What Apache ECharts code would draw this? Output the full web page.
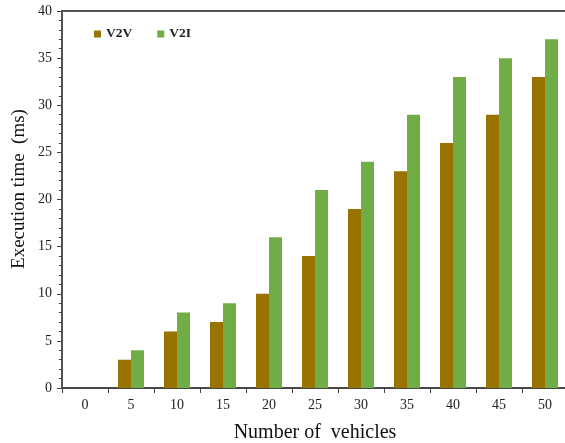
<!DOCTYPE html>
<html><head><meta charset="utf-8">
<script src="https://cdn.jsdelivr.net/npm/echarts@6/dist/echarts.min.js"></script>
<style>html,body{margin:0;padding:0;background:#fff}#c{width:565px;height:443px}</style>
</head><body><div id="c"></div>
<script>
const categories = ['0','5','10','15','20','25','30','35','40','45','50'];
const v2v = [0,3,6,7,10,14,19,23,26,29,33];
const v2i = [0,4,8,9,16,21,24,29,33,35,37];
const yTicks = {min:0,max:40,interval:5};
const font = '"Liberation Serif","Times New Roman",serif';
const chart = echarts.init(document.getElementById('c'));
chart.setOption({
  animation:false,
  backgroundColor:'#fff',
  grid:{left:62,top:11,width:506,bottom:55,show:true,borderColor:'#555',borderWidth:2,
    containLabel:false,outerBoundsMode:'none'},
  legend:{left:89,top:22,itemWidth:7,itemHeight:7,itemGap:25,icon:'rect',
    textStyle:{fontFamily:font,fontSize:13.5,color:'#222',fontWeight:'bold'},
    data:['V2V','V2I']},
  graphic:[{type:'text',x:19,y:189,rotation:Math.PI/2,
    style:{text:'Execution time  (ms)',fontFamily:font,fontSize:19,fill:'#111',
      textAlign:'center',textVerticalAlign:'middle'}}],
  xAxis:{type:'category',data:categories,
    name:'Number of  vehicles',nameLocation:'middle',nameGap:35,
    nameTextStyle:{fontFamily:font,fontSize:20,color:'#111'},
    axisLine:{lineStyle:{color:'#444',width:1.5}},
    axisTick:{show:true,length:5,lineStyle:{color:'#444'}},
    axisLabel:{fontFamily:font,fontSize:14,color:'#222',margin:10}},
  yAxis:{type:'value',min:yTicks.min,max:yTicks.max,interval:yTicks.interval,
    axisLine:{show:true,lineStyle:{color:'#555',width:1.5}},
    axisTick:{show:true,length:5,lineStyle:{color:'#444'}},
    minorTick:{show:true,splitNumber:5,length:3,lineStyle:{color:'#444'}},
    splitLine:{show:false},
    axisLabel:{fontFamily:font,fontSize:14,color:'#222',margin:10}},
  series:[
    {name:'V2V',type:'bar',data:v2v,barWidth:13,barGap:'0%',itemStyle:{color:'#997300'}},
    {name:'V2I',type:'bar',data:v2i,barWidth:13,itemStyle:{color:'#70ad47'}}
  ]
});
</script></body></html>
